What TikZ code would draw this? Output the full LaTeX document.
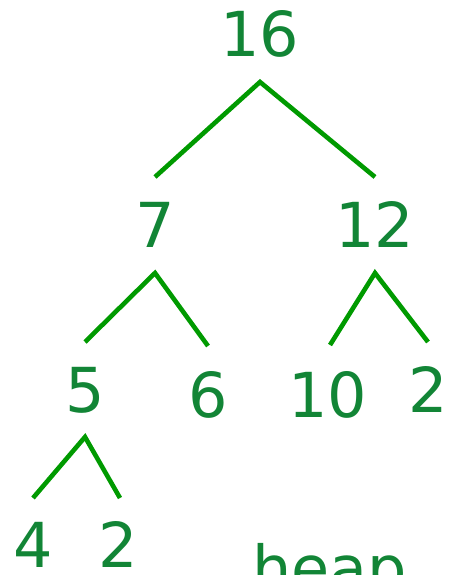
\documentclass[tikz,border=0pt]{standalone}
\usepackage{fontspec}
\setmainfont{DejaVu Sans}
\definecolor{numgreen}{HTML}{128536}
\definecolor{linegreen}{HTML}{009A00}
\begin{document}
\begin{tikzpicture}[x=1pt,y=-1pt,
  num/.style={text=numgreen,font=\fontsize{62}{62}\selectfont,anchor=base,inner sep=0pt},
  edge/.style={draw=linegreen,line width=4.6pt}]
\useasboundingbox (0,0) rectangle (457,575);
\node[num] (n16) at (260,57) {16};
\node[num] (n7) at (155,247) {7};
\node[num] (n12) at (375,247) {12};
\node[num] (n5) at (85,412) {5};
\node[num] (n6) at (208,417) {6};
\node[num] (n10) at (328,417) {10};
\node[num] (n2a) at (428,412) {2};
\node[num] (n4) at (33,567) {4};
\node[num] (n2b) at (118,567) {2};
\node[num,anchor=base west] (heap) at (252,590) {heap};
\coordinate (c16) at (260,82);
\coordinate (t7) at (155,177);
\coordinate (t12) at (375,177);
\coordinate (c7) at (155,273);
\coordinate (t5) at (85,342);
\coordinate (t6) at (208,346);
\coordinate (c12) at (375,273);
\coordinate (t10) at (330,345);
\coordinate (t2a) at (428,342);
\coordinate (c5) at (85,437);
\coordinate (t4) at (33,498);
\coordinate (t2b) at (120,498);
\draw[edge] (t7) -- (c16) -- (t12);
\draw[edge] (t5) -- (c7) -- (t6);
\draw[edge] (t10) -- (c12) -- (t2a);
\draw[edge] (t4) -- (c5) -- (t2b);
\end{tikzpicture}
\end{document}
